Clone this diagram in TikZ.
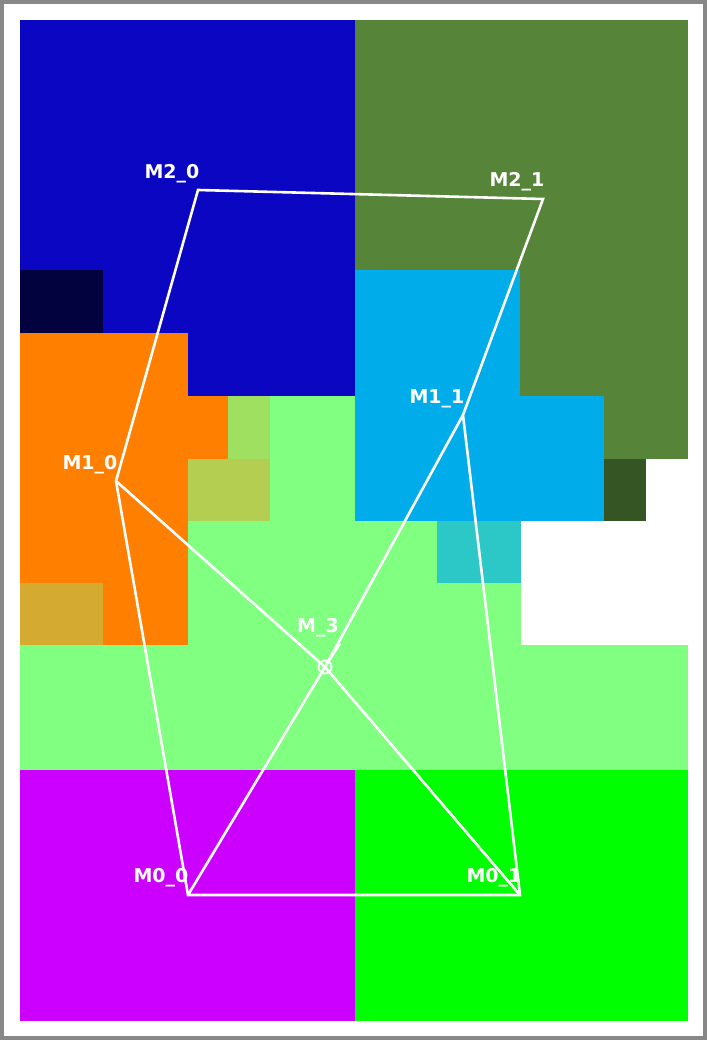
\documentclass[tikz,border=0pt]{standalone}
\usepackage{fontspec}
\newfontfamily\lblfont{DejaVu Sans}
\definecolor{cgray}{HTML}{888888}
\definecolor{cblue}{HTML}{0A06C2}
\definecolor{cnavy}{HTML}{02023F}
\definecolor{corange}{HTML}{FF8000}
\definecolor{clime}{HTML}{A0E060}
\definecolor{colive}{HTML}{B4CE52}
\definecolor{cgold}{HTML}{D4AA30}
\definecolor{clgreen}{HTML}{80FF80}
\definecolor{cogreen}{HTML}{568438}
\definecolor{cdgreen}{HTML}{365524}
\definecolor{csky}{HTML}{00ACEA}
\definecolor{cteal}{HTML}{2CC8C8}
\definecolor{cmag}{HTML}{CC00FF}
\definecolor{cgreen}{HTML}{00FF00}
\tikzset{
  edge/.style={draw=white, line width=2.6pt},
  lbl/.style={text=white, font=\lblfont\bfseries\fontsize{19}{19}\selectfont, inner sep=0pt, anchor=center},
}
\begin{document}
\begin{tikzpicture}[x=1pt,y=-1pt]
\useasboundingbox (0,0) rectangle (707,1040);
\fill[cgray] (0,0) rectangle (707,1040);
\fill[white] (4,4) rectangle (703,1036);
% regions
\fill[clgreen] (20,396) rectangle (688,770);
\fill[cblue] (20,20) rectangle (355,396);
\fill[cnavy] (20,270) rectangle (103,333);
\fill[corange] (20,333) rectangle (188,645);
\fill[corange] (188,396) rectangle (228,459);
\fill[clime] (228,396) rectangle (270,459);
\fill[colive] (188,459) rectangle (270,521);
\fill[cgold] (20,583) rectangle (103,645);
\fill[cogreen] (355,20) rectangle (688,459);
\fill[csky] (355,270) rectangle (520,396);
\fill[csky] (355,396) rectangle (604,521);
\fill[cdgreen] (604,459) rectangle (646,521);
\fill[white] (646,459) rectangle (688,521);
\fill[white] (521,521) rectangle (688,645);
\fill[cteal] (437,521) rectangle (521,583);
\fill[cmag] (20,770) rectangle (355,1021);
\fill[cgreen] (355,770) rectangle (688,1021);
% points
\coordinate (m20) at (198,190);
\coordinate (m21) at (543,199);
\coordinate (m10) at (116,481);
\coordinate (m11) at (463,415);
\coordinate (m3) at (325,667);
\coordinate (m00) at (188,895);
\coordinate (m01) at (520,895);
\coordinate (t3) at (340,644);
% edges
\draw[edge, line join=miter] (m20) -- (m21) -- (m11) -- (m01) -- (m00) -- (m10) -- cycle;
\draw[edge] (m10) -- (m3) -- (m01);
\draw[edge] (m11) -- (m3) -- (m00);
\draw[draw=white, line width=2pt] (m3) -- (t3);
\draw[draw=white, line width=1.9pt] (m3) circle (6.5);
% labels
\node[lbl] (l20) at (172,174) {M2\_0};
\node[lbl] (l21) at (517,182) {M2\_1};
\node[lbl] (l10) at (90,465) {M1\_0};
\node[lbl] (l11) at (437,399) {M1\_1};
\node[lbl] (l3) at (318,628) {M\_3};
\node[lbl] (l00) at (161,878) {M0\_0};
\node[lbl] (l01) at (494,878) {M0\_1};
\end{tikzpicture}
\end{document}
